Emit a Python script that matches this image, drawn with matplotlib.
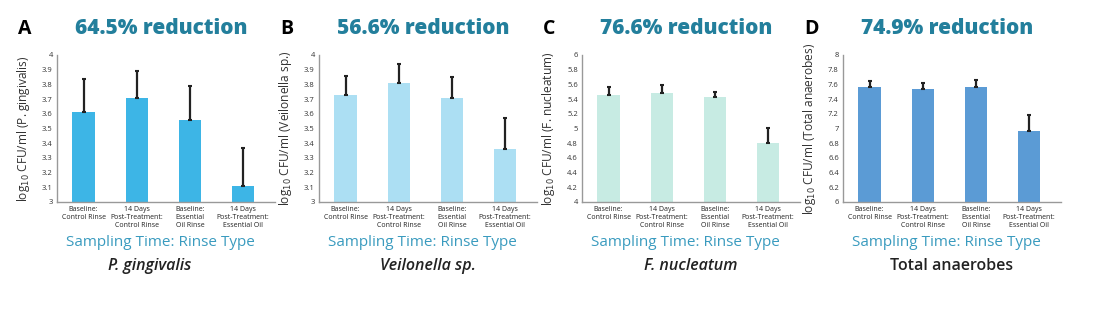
import matplotlib
matplotlib.use("Agg")
import matplotlib.pyplot as plt
import numpy as np

plt.rcParams['font.family'] = ['Open Sans', 'DejaVu Sans']

categories = ["Baseline:\nControl Rinse", "14 Days\nPost-Treatment:\nControl Rinse",
              "Baseline:\nEssential\nOil Rinse", "14 Days\nPost-Treatment:\nEssential Oil"]

letters = ["A", "B", "C", "D"]
reductions = ["64.5% reduction", "56.6% reduction", "76.6% reduction", "74.9% reduction"]
species = ["P. gingivalis", "Veilonella sp.", "F. nucleatum", "Total anaerobes"]
species_italic = [True, True, True, False]
ylabels = ["(P. gingivalis)", "(Veilonella sp.)", "(F. nucleatum)", "(Total anaerobes)"]

means_a = [3.61, 3.71, 3.56, 3.11]
err_a = [0.23, 0.18, 0.23, 0.26]
means_b = [3.73, 3.81, 3.71, 3.36]
err_b = [0.13, 0.13, 0.14, 0.21]
means_c = [5.46, 5.48, 5.43, 4.80]
err_c = [0.10, 0.11, 0.06, 0.21]
means_d = [7.56, 7.54, 7.56, 6.96]
err_d = [0.09, 0.08, 0.10, 0.23]

ylims = [(3, 4), (3, 4), (4, 6), (6, 8)]
ysteps = [0.1, 0.1, 0.2, 0.2]
colors = ["#3db5e6", "#acdff3", "#c7ebe3", "#5b9bd5"]

means = [means_a, means_b, means_c, means_d]
errs = [err_a, err_b, err_c, err_d]

fig = plt.figure(figsize=(11.16, 3.21), dpi=100)
W, H = 1116, 321
lefts = [57, 319, 582, 843]
ax_w = 218
top_px, bot_px = 55, 202
species_shift = [-16, 0, 0, 0]

teal = "#237f9c"
light_teal = "#3a9bbf"

for i in range(4):
    ax = fig.add_axes([lefts[i] / W, 1 - bot_px / H, ax_w / W, (bot_px - top_px) / H])
    x = np.arange(4)
    ax.bar(x, means[i], width=0.42, color=colors[i], zorder=2)
    ax.errorbar(x, means[i], yerr=[np.zeros(4), errs[i]], fmt="none",
                ecolor="#222222", elinewidth=1.6, capsize=1.5, capthick=1.5, zorder=3)
    lo, hi = ylims[i]
    ax.set_ylim(lo, hi)
    ax.set_xlim(-0.5, 3.6)
    ticks = np.round(np.arange(lo, hi + 1e-9, ysteps[i]), 1)
    ax.set_yticks(ticks)
    ax.set_yticklabels([f"{t:g}" for t in ticks], fontsize=5.5, color="#333333")
    ax.set_xticks(x)
    ax.set_xticklabels(categories, fontsize=5.0, color="#222222", linespacing=1.2)
    ax.tick_params(axis="both", length=0, pad=3)
    for s in ["top", "right"]:
        ax.spines[s].set_visible(False)
    for s in ["left", "bottom"]:
        ax.spines[s].set_color("#999999")
        ax.spines[s].set_linewidth(1.0)
    ax.set_ylabel("log$_{10}$ CFU/ml " + ylabels[i], fontsize=8.6, color="#333333", labelpad=7)

    cx = lefts[i] + ax_w / 2
    fig.text((lefts[i] - 39) / W, 1 - 29 / H, letters[i], fontsize=14, fontweight="bold",
             color="black", ha="left", va="center")
    fig.text((cx - 5) / W, 1 - 28 / H, reductions[i], fontsize=15,
             fontweight="heavy", color=teal, ha="center", va="center")
    fig.text((cx - 6) / W, 1 - 243 / H, "Sampling Time: Rinse Type", fontsize=11,
             color=light_teal, ha="center", va="center")
    fig.text((cx + species_shift[i]) / W, 1 - 266 / H, species[i], fontsize=11.5,
             style="italic" if species_italic[i] else "normal", fontweight="semibold",
             color="#222222", ha="center", va="center")

fig.savefig("out.png", dpi=100, facecolor="white")
